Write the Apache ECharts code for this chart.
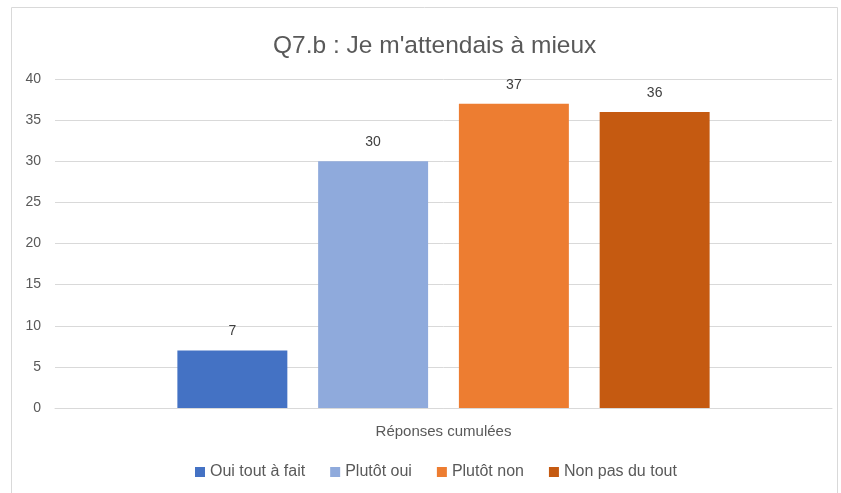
<!DOCTYPE html>
<html>
<head>
<meta charset="utf-8">
<script src="https://cdn.jsdelivr.net/npm/echarts@6/dist/echarts.min.js"></script>
<style>
  html, body { margin: 0; padding: 0; background: #fff; }
  #chart { width: 841px; height: 493px; }
</style>
</head>
<body>
<div id="chart"></div>
<script>
// categorie unique et reponses par modalite
const categories = ['Réponses cumulées']
const seriesNames = ['Oui tout à fait', 'Plutôt oui', 'Plutôt non', 'Non pas du tout']
const seriesValues = [[7], [30], [37], [36]]
const colors = ['#4472C4', '#8FAADC', '#ED7D31', '#C55A11']

const font = 'Liberation Sans'
const myChart = echarts.init(document.getElementById('chart'))

const series = seriesNames.map((name, i) => ({
  name: name,
  type: 'bar',
  data: seriesValues[i],
  barGap: '28%',
  barCategoryGap: '31.5%',
  itemStyle: { color: colors[i] },
  label: {
    show: true,
    position: 'top',
    distance: 12,
    color: '#404040',
    fontSize: 14,
    fontFamily: font
  }
}))

const option = {
  animation: false,
  title: {
    text: "Q7.b : Je m'attendais à mieux",
    left: 268,
    top: 29,
    textStyle: { color: '#595959', fontSize: 24.5, fontWeight: 'normal', fontFamily: font }
  },
  graphic: [{
    type: 'rect',
    shape: { x: 11.5, y: 7.5, width: 826, height: 500 },
    style: { fill: 'none', stroke: '#d9d9d9', lineWidth: 1 },
    silent: true
  }],
  grid: { left: 55, right: 9, top: 79, bottom: 85 },
  legend: {
    top: 459,
    left: 190,
    icon: 'rect',
    itemWidth: 10,
    itemHeight: 10,
    itemGap: 25,
    textStyle: { color: '#595959', fontSize: 16, fontFamily: font }
  },
  xAxis: {
    type: 'category',
    data: categories,
    axisLine: { lineStyle: { color: '#d9d9d9' } },
    axisTick: { show: false },
    axisLabel: { color: '#595959', fontSize: 15, margin: 16, fontFamily: font }
  },
  yAxis: {
    type: 'value',
    min: 0,
    max: 40,
    interval: 5,
    axisLine: { show: false },
    axisTick: { show: false },
    splitLine: { lineStyle: { color: '#d9d9d9' } },
    axisLabel: { color: '#595959', fontSize: 14, margin: 14, fontFamily: font }
  },
  series: series
}
myChart.setOption(option)
</script>
</body>
</html>
